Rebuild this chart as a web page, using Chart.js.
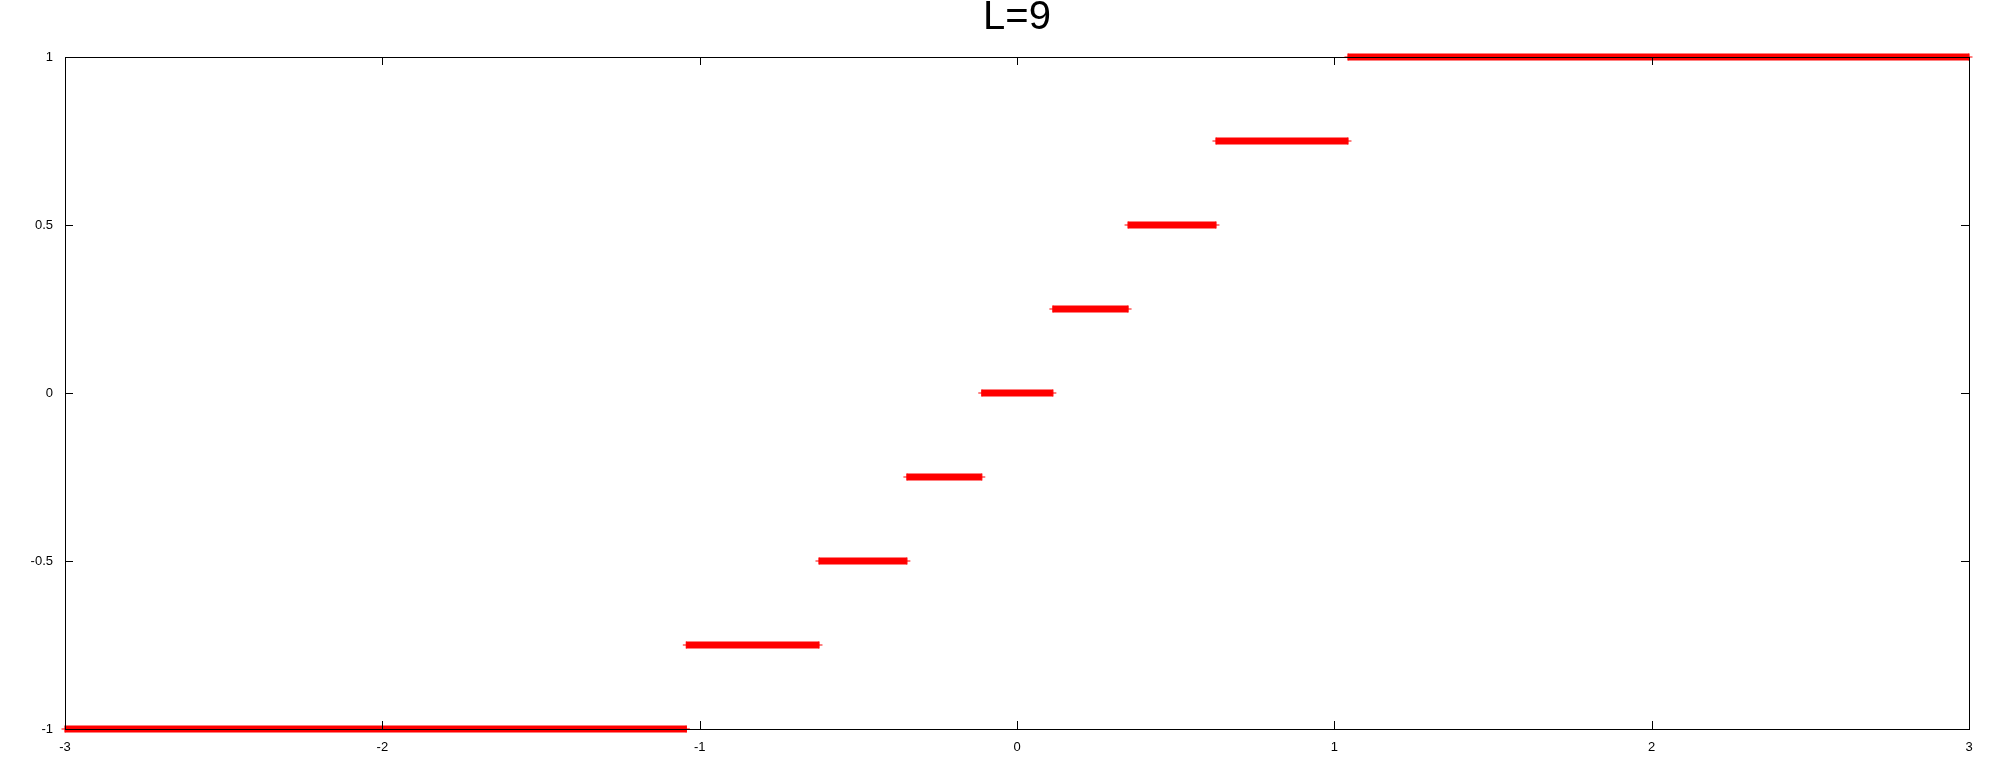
<!DOCTYPE html>
<html>
<head>
<meta charset="utf-8">
<script src="https://cdn.jsdelivr.net/npm/chart.js@4/dist/chart.umd.min.js"></script>
<style>
  html, body { margin: 0; padding: 0; background: #fff; }
  #wrap { width: 2000px; height: 768px; }
</style>
</head>
<body>
<div id="wrap"><canvas id="c" width="2000" height="768"></canvas></div>
<script>
// ---- data ----
const chartTitle = "L=9";
// quantization levels (step values)
const levels = [-1, -0.75, -0.5, -0.25, 0, 0.25, 0.5, 0.75, 1];
// step boundaries along x (start of first step, inner thresholds, end of last step)
const boundaries = [-3, -1.042, -0.624, -0.347, -0.111, 0.113, 0.350, 0.627, 1.043, 3];
// tick labels
const xTickValues = [-3, -2, -1, 0, 1, 2, 3];
const yTickValues = [-1, -0.5, 0, 0.5, 1];

// build segment points: each level is a horizontal segment, separated by gaps
const points = [];
levels.forEach((lv, i) => {
  if (i > 0) points.push({ x: boundaries[i], y: null });
  points.push({ x: boundaries[i], y: lv });
  points.push({ x: boundaries[i + 1], y: lv });
});

const FONT = "'Liberation Sans', Arial, Helvetica, sans-serif";

const framePlugin = {
  id: 'frame',
  afterDatasetsDraw(chart) {
    const { ctx, chartArea: a, scales } = chart;
    const TL = 8;
    ctx.save();
    ctx.strokeStyle = '#000';
    ctx.lineWidth = 1;
    ctx.beginPath();
    scales.x.ticks.forEach(t => {
      const px = Math.round(scales.x.getPixelForValue(t.value)) + 0.5;
      ctx.moveTo(px, a.bottom); ctx.lineTo(px, a.bottom - TL);
      ctx.moveTo(px, a.top); ctx.lineTo(px, a.top + TL);
    });
    scales.y.ticks.forEach(t => {
      const py = Math.round(scales.y.getPixelForValue(t.value)) + 0.5;
      ctx.moveTo(a.left, py); ctx.lineTo(a.left + TL, py);
      ctx.moveTo(a.right, py); ctx.lineTo(a.right - TL, py);
    });
    ctx.stroke();
    ctx.strokeRect(Math.round(a.left) + 0.5, Math.round(a.top) + 0.5,
                   Math.round(a.right - a.left), Math.round(a.bottom - a.top));
    ctx.restore();
  }
};

new Chart(document.getElementById('c'), {
  type: 'line',
  data: {
    datasets: [{
      data: points,
      borderColor: '#ff0000',
      backgroundColor: '#ff0000',
      borderWidth: 7,
      borderCapStyle: 'butt',
      spanGaps: false,
      pointStyle: 'cross',
      pointRadius: 3.5,
      pointBorderWidth: 1.2,
      pointBorderColor: '#ff0000',
      pointHoverRadius: 3.5,
      tension: 0,
      clip: false
    }]
  },
  options: {
    responsive: false,
    animation: false,
    events: [],
    layout: { padding: { left: 0, right: 31, top: 0, bottom: 0 } },
    plugins: {
      legend: { display: false },
      tooltip: { enabled: false },
      title: {
        display: true,
        fullSize: false,
        text: chartTitle,
        color: '#000',
        font: { family: FONT, size: 40, weight: 'normal', lineHeight: 0.9 },
        padding: { top: 0, bottom: 21 }
      }
    },
    scales: {
      x: {
        type: 'linear',
        min: -3, max: 3,
        afterBuildTicks: s => { s.ticks = xTickValues.map(v => ({ value: v })); },
        afterFit: s => { s.height = 39; },
        grid: { display: false, drawTicks: false },
        border: { display: false },
        ticks: {
          color: '#000', padding: 11, maxRotation: 0, autoSkip: false,
          font: { family: FONT, size: 13 },
          callback: v => String(v)
        }
      },
      y: {
        type: 'linear',
        min: -1, max: 1,
        afterBuildTicks: s => { s.ticks = yTickValues.map(v => ({ value: v })); },
        afterFit: s => { s.width = 65; },
        grid: { display: false, drawTicks: false },
        border: { display: false },
        ticks: {
          color: '#000', padding: 12, autoSkip: false,
          font: { family: FONT, size: 13 },
          callback: v => String(v)
        }
      }
    }
  },
  plugins: [framePlugin]
});
</script>
</body>
</html>
